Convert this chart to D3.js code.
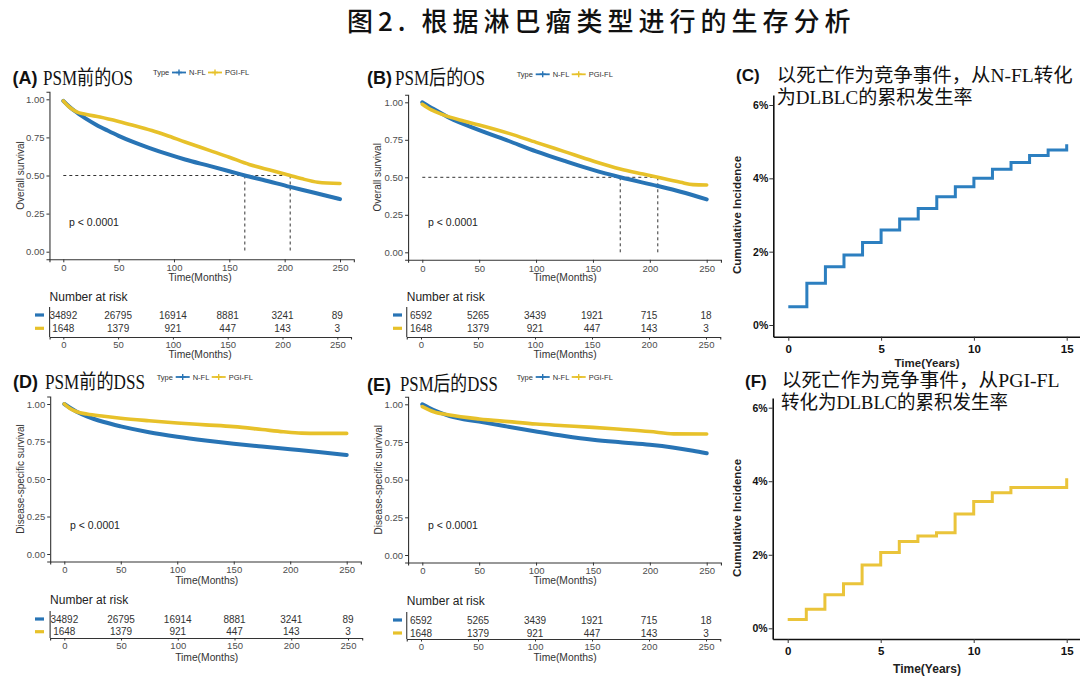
<!DOCTYPE html>
<html><head><meta charset="utf-8">
<script src="https://cdn.jsdelivr.net/npm/d3@7"></script>
<style>body{margin:0;background:#fff;} svg{display:block;}</style>
</head><body>
<script>
// ---------------- DATA ----------------
const mainTitle = "图2. 根据淋巴瘤类型进行的生存分析";
const seriesNames = ["N-FL", "PGI-FL"];
const monthTicks = [0, 50, 100, 150, 200, 250];
const survTicks = [0, 0.25, 0.5, 0.75, 1];
const yearTicks = [0, 5, 10, 15];
const pctTicks = [0, 2, 4, 6];

// (A) OS before PSM
const osPreNFL_t = [0, 5, 10, 20, 30, 40, 50, 63, 80, 93, 110, 132, 150, 164, 180, 205, 225, 250];
const osPreNFL_s = [0.99, 0.955, 0.925, 0.875, 0.832, 0.795, 0.76, 0.72, 0.675, 0.643, 0.605, 0.563, 0.528, 0.50, 0.472, 0.425, 0.39, 0.345];
const osPrePGI_t = [0, 5, 12, 20, 33, 50, 63, 80, 93, 110, 132, 150, 168, 190, 205, 215, 230, 250];
const osPrePGI_s = [0.99, 0.952, 0.918, 0.902, 0.884, 0.855, 0.83, 0.795, 0.764, 0.72, 0.665, 0.62, 0.572, 0.53, 0.50, 0.48, 0.456, 0.448];
const osPreMedians = [164, 205];

// (B) OS after PSM
const osPostNFL_t = [0, 10, 24, 50, 76, 100, 125, 150, 174, 207, 227, 250];
const osPostNFL_s = [1.0, 0.955, 0.895, 0.815, 0.742, 0.673, 0.609, 0.549, 0.50, 0.442, 0.404, 0.353];
const osPostPGI_t = [0, 8, 18, 33, 50, 76, 100, 125, 150, 174, 194, 207, 227, 238, 250];
const osPostPGI_s = [0.987, 0.949, 0.918, 0.882, 0.849, 0.793, 0.733, 0.671, 0.609, 0.556, 0.522, 0.50, 0.467, 0.451, 0.449];
const osPostMedians = [174, 207];

// (D) DSS before PSM
const dssPreNFL_t = [0, 5, 11, 20, 35, 50, 75, 100, 125, 150, 175, 200, 225, 250];
const dssPreNFL_s = [1.0, 0.975, 0.949, 0.918, 0.88, 0.851, 0.812, 0.782, 0.757, 0.735, 0.716, 0.698, 0.68, 0.66];
const dssPrePGI_t = [0, 5, 11, 20, 35, 50, 75, 100, 125, 150, 175, 194, 210, 225, 250];
const dssPrePGI_s = [1.0, 0.97, 0.948, 0.933, 0.918, 0.905, 0.888, 0.873, 0.861, 0.849, 0.83, 0.815, 0.806, 0.804, 0.804];

// (E) DSS after PSM
const dssPostNFL_t = [0, 10, 24, 50, 75, 100, 125, 150, 174, 200, 220, 238, 250];
const dssPostNFL_s = [1.0, 0.962, 0.922, 0.885, 0.852, 0.82, 0.79, 0.765, 0.748, 0.732, 0.714, 0.692, 0.675];
const dssPostPGI_t = [0, 10, 24, 50, 76, 100, 125, 150, 174, 200, 221, 250];
const dssPostPGI_s = [0.985, 0.951, 0.929, 0.903, 0.885, 0.869, 0.858, 0.847, 0.834, 0.819, 0.804, 0.803];

// Numbers at risk
const riskPreNFL = [34892, 26795, 16914, 8881, 3241, 89];
const riskPrePGI = [1648, 1379, 921, 447, 143, 3];
const riskPostNFL = [6592, 5265, 3439, 1921, 715, 18];
const riskPostPGI = [1648, 1379, 921, 447, 143, 3];

// (C),(F) cumulative incidence of transformation to DLBCL (%)
const cifYears = [0, 1, 2, 3, 4, 5, 6, 7, 8, 9, 10, 11, 12, 13, 14, 15];
const cifNFL = [0.5, 1.14, 1.59, 1.91, 2.25, 2.59, 2.89, 3.18, 3.5, 3.77, 4.0, 4.25, 4.43, 4.62, 4.77, 4.93];
const cifPGI = [0.24, 0.52, 0.91, 1.21, 1.72, 2.06, 2.36, 2.51, 2.6, 3.11, 3.45, 3.69, 3.83, 3.83, 3.83, 4.08];

// ---------------- DRAW ----------------
const W = 1080, H = 678;
const BLUE = "#2874B5", YELLOW = "#E7C12A";
const CBLUE = "#2C7FC0", CYELLOW = "#EAC43A";
const SANS = "'Liberation Sans', Arial, sans-serif";
const TSERIF = "'Liberation Serif', 'Noto Sans CJK SC', serif";
const CJK = "'Noto Sans CJK SC', sans-serif";

const svg = d3.select("body").append("svg").attr("width", W).attr("height", H);
svg.append("rect").attr("width", W).attr("height", H).attr("fill", "#fff");

svg.append("text").attr("x", 347).attr("y", 19).attr("dominant-baseline", "central")
  .attr("font-family", CJK).attr("font-size", 26).attr("font-weight", 500)
  .attr("letter-spacing", 5).attr("fill", "#111").text(mainTitle);

function pts(t, s) { return t.map((d, i) => ({ t: d, s: s[i] })); }

// text squeezed horizontally to a target width (via transform, so its box is accurate)
function fitText(parent, str, x, y, size, target) {
  const t = parent.append("text").attr("x", 0).attr("y", 0).attr("dominant-baseline", "central")
    .attr("font-family", TSERIF).attr("font-size", size).attr("fill", "#111").text(str);
  const w = t.node().getComputedTextLength() || target;
  const k = target / w;
  t.attr("transform", `translate(${x},${y}) scale(${k},1)`);
  return t;
}

function styleAxis(g, fs, col, bold) {
  g.select(".domain").attr("stroke", "#333").attr("stroke-width", 1.1);
  g.selectAll(".tick line").attr("stroke", "#333").attr("stroke-width", 1);
  g.selectAll(".tick text").attr("font-family", SANS).attr("font-size", fs)
    .attr("fill", col).attr("font-weight", bold ? "bold" : "normal");
}

function legend(x, y) {
  const g = svg.append("g").attr("font-family", SANS).attr("font-size", 7.5).attr("fill", "#333");
  g.append("text").attr("x", x).attr("y", y).attr("dominant-baseline", "central").text("Type");
  const items = [{ c: BLUE, dx: 19, n: seriesNames[0], tx: 36 }, { c: YELLOW, dx: 55, n: seriesNames[1], tx: 72 }];
  items.forEach(it => {
    g.append("line").attr("x1", x + it.dx).attr("x2", x + it.dx + 14).attr("y1", y).attr("y2", y)
      .attr("stroke", it.c).attr("stroke-width", 1.8);
    const cx = x + it.dx + 7;
    g.append("path").attr("d", `M${cx - 3},${y}H${cx + 3}M${cx},${y - 3}V${y + 3}`)
      .attr("stroke", it.c).attr("stroke-width", 1.4);
    g.append("text").attr("x", x + it.tx).attr("y", y).attr("dominant-baseline", "central").text(it.n);
  });
}

function kmPanel(p) {
  const x = d3.scaleLinear().domain([0, 250]).range([p.x0, p.x250]);
  const xe = d3.scaleLinear().domain([-12.5, 262.5]).range([x(-12.5), x(262.5)]);
  const y = d3.scaleLinear().domain([0, 1]).range([p.y0, p.y1]);
  const ye = d3.scaleLinear().domain([-0.05, 1.05]).range([y(-0.05), y(1.05)]);
  const g = svg.append("g");

  const gx = g.append("g").attr("transform", `translate(0,${ye(-0.05)})`)
    .call(d3.axisBottom(xe).tickValues(monthTicks).tickSize(3).tickPadding(2).tickFormat(d3.format("d")));
  styleAxis(gx, 9.5, "#4D4D4D");
  const gy = g.append("g").attr("transform", `translate(${xe(-12.5)},0)`)
    .call(d3.axisLeft(ye).tickValues(survTicks).tickSize(3).tickPadding(2).tickFormat(d3.format(".2f")));
  styleAxis(gy, 9.5, "#4D4D4D");

  // median lines
  if (p.medians) {
    const mx = d3.max(p.medians);
    g.append("line").attr("x1", xe(0)).attr("x2", xe(mx)).attr("y1", ye(0.5)).attr("y2", ye(0.5))
      .attr("stroke", "#333").attr("stroke-width", 1).attr("stroke-dasharray", "3,3");
    p.medians.forEach(m => {
      g.append("line").attr("x1", xe(m)).attr("x2", xe(m)).attr("y1", ye(0.5)).attr("y2", ye(0))
        .attr("stroke", "#333").attr("stroke-width", 1).attr("stroke-dasharray", "3,3");
    });
  }

  const line = d3.line().x(d => xe(d.t)).y(d => ye(d.s)).curve(d3.curveMonotoneX);
  [{ d: p.nfl, c: BLUE, w: 4 }, { d: p.pgi, c: YELLOW, w: 3.6 }].forEach(s => {
    g.append("path").attr("d", line(s.d)).attr("fill", "none").attr("stroke", s.c)
      .attr("stroke-width", s.w).attr("stroke-linejoin", "round").attr("stroke-linecap", "round");
  });

  g.append("text").attr("x", p.pvX).attr("y", p.pvY).attr("dominant-baseline", "central")
    .attr("font-family", SANS).attr("font-size", 10.5).attr("fill", "#222").text("p < 0.0001");
  g.append("text").attr("transform", `translate(${p.ytX},${(ye(-0.05) + ye(1.05)) / 2}) rotate(-90)`)
    .attr("text-anchor", "middle").attr("dominant-baseline", "central")
    .attr("font-family", SANS).attr("font-size", 10).attr("fill", "#333").text(p.yTitle);
  g.append("text").attr("x", p.xtX).attr("y", p.xtY).attr("text-anchor", "middle").attr("dominant-baseline", "central")
    .attr("font-family", SANS).attr("font-size", 10.3).attr("fill", "#333").text("Time(Months)");

  // panel title
  g.append("text").attr("x", p.lblX).attr("y", p.tY).attr("dominant-baseline", "central")
    .attr("font-family", SANS).attr("font-weight", "bold").attr("font-size", 18).attr("fill", "#111").text(p.lbl);
  fitText(g, p.title, p.tX, p.tY, 20, p.tLen);

  legend(p.lgX, p.lgY);

  // risk table
  const r = p.risk;
  const rx = d3.scaleLinear().domain([0, 250]).range([r.x0, r.x250]);
  const rg = svg.append("g");
  rg.append("text").attr("x", rx(-12.5)).attr("y", r.titleY).attr("dominant-baseline", "central")
    .attr("font-family", SANS).attr("font-size", 12).attr("fill", "#222").text("Number at risk");
  [{ v: r.nfl, y: r.row1, c: BLUE }, { v: r.pgi, y: r.row2, c: YELLOW }].forEach(row => {
    rg.selectAll(null).data(row.v).enter().append("text")
      .attr("x", (d, i) => rx(monthTicks[i])).attr("y", row.y).attr("text-anchor", "middle")
      .attr("dominant-baseline", "central").attr("font-family", SANS).attr("font-size", 10)
      .attr("fill", "#333").text(d => d);
    rg.append("line").attr("x1", r.dashX).attr("x2", r.dashX + 9).attr("y1", row.y).attr("y2", row.y)
      .attr("stroke", row.c).attr("stroke-width", 3.2);
  });
  rg.append("line").attr("x1", rx(-12.5)).attr("x2", rx(-12.5)).attr("y1", r.row1 - 8).attr("y2", r.axisY)
    .attr("stroke", "#333").attr("stroke-width", 1.1);
  const rxe = d3.scaleLinear().domain([-12.5, 262.5]).range([rx(-12.5), rx(262.5)]);
  const rax = rg.append("g").attr("transform", `translate(0,${r.axisY})`)
    .call(d3.axisBottom(rxe).tickValues(monthTicks).tickSize(2.5).tickPadding(1.5).tickFormat(d3.format("d")));
  styleAxis(rax, 9.5, "#4D4D4D");
  rg.append("text").attr("x", p.xtX).attr("y", r.labY).attr("text-anchor", "middle").attr("dominant-baseline", "central")
    .attr("font-family", SANS).attr("font-size", 10.3).attr("fill", "#333").text("Time(Months)");
}

function cifPanel(p) {
  const x = d3.scaleLinear().domain([0, 15]).range([p.x0, p.x15]);
  const y = d3.scaleLinear().domain([0, 6]).range([p.y0, p.y6]);
  const xe = d3.scaleLinear().domain([x.invert(p.axX), x.invert(W)]).range([p.axX, W]);
  const ye = d3.scaleLinear().domain([y.invert(p.axY), y.invert(p.topY)]).range([p.axY, p.topY]);
  const g = svg.append("g");
  const gx = g.append("g").attr("transform", `translate(0,${p.axY})`)
    .call(d3.axisBottom(xe).tickValues(yearTicks).tickSize(4).tickPadding(4).tickSizeOuter(0));
  styleAxis(gx, 11.5, "#111", true);
  gx.select(".domain").attr("stroke", "#111").attr("stroke-width", 1.6);
  const gy = g.append("g").attr("transform", `translate(${p.axX},0)`)
    .call(d3.axisLeft(ye).tickValues(pctTicks).tickSize(4).tickPadding(1).tickSizeOuter(0).tickFormat(d => d + "%"));
  styleAxis(gy, 10.5, "#111", true);
  gy.select(".domain").attr("stroke", "#111").attr("stroke-width", 1.6);

  const line = d3.line().x(d => x(d.t)).y(d => y(d.s)).curve(d3.curveStepAfter);
  g.append("path").attr("d", line(pts(cifYears, p.data))).attr("fill", "none")
    .attr("stroke", p.color).attr("stroke-width", 3);

  g.append("text").attr("transform", `translate(${p.ytX},${p.ytY}) rotate(-90)`)
    .attr("text-anchor", "middle").attr("dominant-baseline", "central")
    .attr("font-family", SANS).attr("font-weight", "bold").attr("font-size", 11.5).attr("fill", "#222")
    .text("Cumulative Incidence");
  g.append("text").attr("x", p.xtX).attr("y", p.xtY).attr("text-anchor", "middle").attr("dominant-baseline", "central")
    .attr("font-family", SANS).attr("font-weight", "bold").attr("font-size", p.xtFs).attr("fill", "#222").text("Time(Years)");

  g.append("text").attr("x", p.lblX).attr("y", p.l1Y).attr("dominant-baseline", "central")
    .attr("font-family", SANS).attr("font-weight", "bold").attr("font-size", 17).attr("fill", "#111").text(p.lbl);
  p.lines.forEach(l => fitText(g, l.t, l.x, l.y, 19, l.len));
}

kmPanel({
  x0: 63.3, x250: 340, y0: 251.7, y1: 99.3,
  nfl: pts(osPreNFL_t, osPreNFL_s), pgi: pts(osPrePGI_t, osPrePGI_s), medians: osPreMedians,
  lbl: "(A)", lblX: 12.5, title: "PSM前的OS", tX: 43, tY: 78, tLen: 90,
  lgX: 153, lgY: 72.5, yTitle: "Overall survival", ytX: 20.7, pvX: 69, pvY: 221.7, xtX: 200, xtY: 277,
  risk: { x0: 63.3, x250: 337.3, titleY: 297, row1: 315, row2: 328.3, axisY: 337, labY: 354, dashX: 35,
    nfl: riskPreNFL, pgi: riskPrePGI }
});
kmPanel({
  x0: 422.3, x250: 706.7, y0: 252.3, y1: 102.3,
  nfl: pts(osPostNFL_t, osPostNFL_s), pgi: pts(osPostPGI_t, osPostPGI_s), medians: osPostMedians,
  lbl: "(B)", lblX: 367, title: "PSM后的OS", tX: 395, tY: 78, tLen: 90,
  lgX: 516.7, lgY: 74.3, yTitle: "Overall survival", ytX: 377, pvX: 428, pvY: 221.7, xtX: 565, xtY: 277,
  risk: { x0: 421, x250: 706, titleY: 297, row1: 315, row2: 328.3, axisY: 337, labY: 354, dashX: 393,
    nfl: riskPostNFL, pgi: riskPostPGI }
});
kmPanel({
  x0: 64.3, x250: 346.7, y0: 554, y1: 404,
  nfl: pts(dssPreNFL_t, dssPreNFL_s), pgi: pts(dssPrePGI_t, dssPrePGI_s), medians: null,
  lbl: "(D)", lblX: 13, title: "PSM前的DSS", tX: 45, tY: 381.7, tLen: 100,
  lgX: 156.7, lgY: 377, yTitle: "Disease-specific survival", ytX: 20, pvX: 70, pvY: 525, xtX: 206.7, xtY: 580,
  risk: { x0: 64.3, x250: 348, titleY: 600, row1: 619, row2: 631.7, axisY: 638, labY: 657, dashX: 35,
    nfl: riskPreNFL, pgi: riskPrePGI }
});
kmPanel({
  x0: 422.3, x250: 706.7, y0: 555, y1: 404.3,
  nfl: pts(dssPostNFL_t, dssPostNFL_s), pgi: pts(dssPostPGI_t, dssPostPGI_s), medians: null,
  lbl: "(E)", lblX: 367, title: "PSM后的DSS", tX: 400, tY: 385, tLen: 98,
  lgX: 516.7, lgY: 377, yTitle: "Disease-specific survival", ytX: 378, pvX: 428, pvY: 525, xtX: 565, xtY: 580,
  risk: { x0: 421, x250: 706, titleY: 601, row1: 620, row2: 633, axisY: 639, labY: 657, dashX: 393,
    nfl: riskPostNFL, pgi: riskPostPGI }
});

cifPanel({
  x0: 788.3, x15: 1066.7, y0: 325, y6: 105, axX: 773.3, axY: 336.7, topY: 95,
  data: cifNFL, color: CBLUE, ytX: 737, ytY: 215, xtX: 927, xtY: 362.5, xtFs: 11.5,
  lbl: "(C)", lblX: 736, l1Y: 75.7,
  lines: [{ t: "以死亡作为竞争事件，从N-FL转化", x: 776.7, y: 75.5, len: 296 },
          { t: "为DLBLC的累积发生率", x: 776.7, y: 97.7, len: 196 }]
});
cifPanel({
  x0: 787.7, x15: 1066.7, y0: 628.3, y6: 407.7, axX: 772.7, axY: 639, topY: 398,
  data: cifPGI, color: CYELLOW, ytX: 737, ytY: 518, xtX: 927, xtY: 669, xtFs: 12,
  lbl: "(F)", lblX: 745, l1Y: 381,
  lines: [{ t: "以死亡作为竞争事件，从PGI-FL", x: 781.7, y: 381, len: 278 },
          { t: "转化为DLBLC的累积发生率", x: 781, y: 402.5, len: 227 }]
});
</script>
</body></html>
